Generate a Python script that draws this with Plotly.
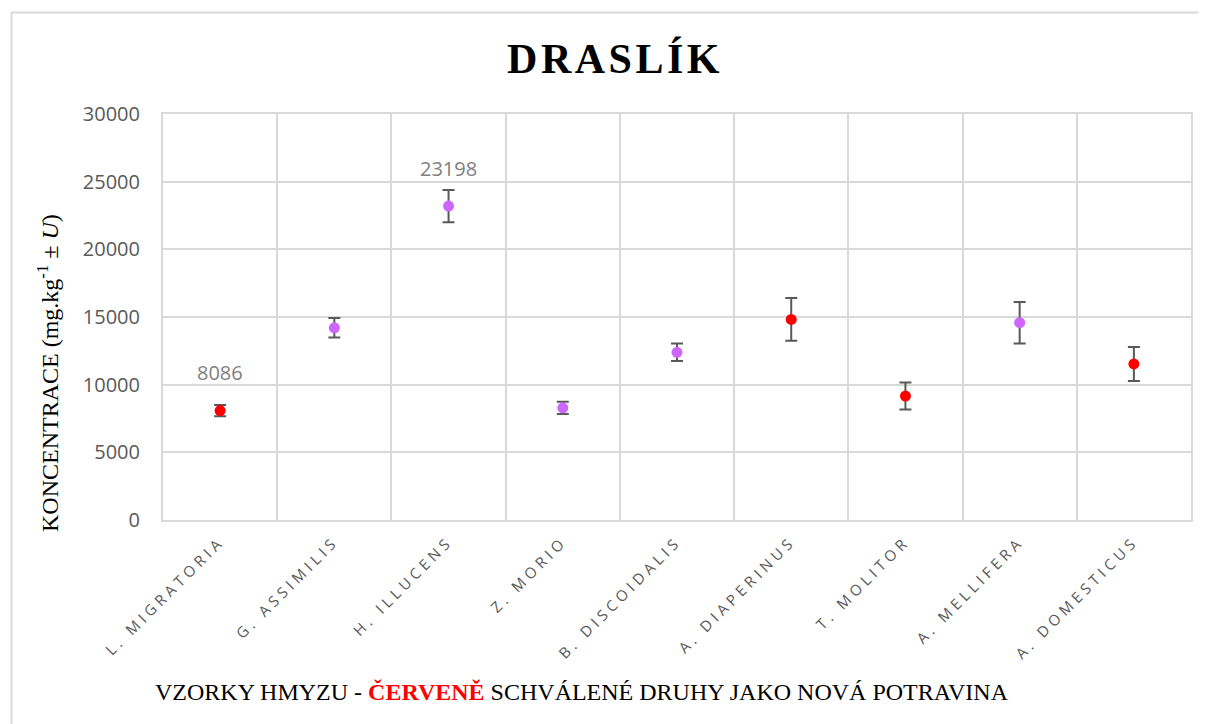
import plotly.graph_objects as go

categories = ["L. MIGRATORIA", "G. ASSIMILIS", "H. ILLUCENS", "Z. MORIO", "B. DISCOIDALIS",
              "A. DIAPERINUS", "T. MOLITOR", "A. MELLIFERA", "A. DOMESTICUS"]
values = [8086, 14200, 23198, 8290, 12390, 14820, 9160, 14580, 11530]
uncertainty = [420, 720, 1190, 450, 650, 1580, 1000, 1530, 1250]
approved = [True, False, False, False, False, True, True, False, True]
labelled = [True, False, True, False, False, False, False, False, False]

RED = "#FF0000"
PURPLE = "#CC66FF"
GRID = "#D9D9D9"
TICK = "#595959"

colors = [RED if a else PURPLE for a in approved]

W, H = 1198, 716  # page body adds an 8px offset
L, T, PW, PH = 155, 106, 1028, 406

fig = go.Figure()
fig.add_trace(go.Scatter(
    x=categories, y=values, mode="markers",
    marker=dict(color=colors, size=11, line=dict(width=0)),
    error_y=dict(type="data", array=uncertainty, visible=True,
                 color=TICK, thickness=2, width=6),
    showlegend=False, cliponaxis=False,
))

for c, v, lab in zip(categories, values, labelled):
    if lab:
        fig.add_annotation(x=c, y=v, text=str(v), showarrow=False, yshift=38,
                           font=dict(family="Open Sans", size=20, color="#7F7F7F"))

# y-axis title
fig.add_annotation(xref="paper", yref="paper", x=(48 - 163) / PW, y=(520 - 373) / PH,
                   xanchor="center", yanchor="middle", textangle=-90,
                   text="KONCENTRACE (mg.kg<sup>-1</sup> ± <i>U</i>)", showarrow=False,
                   font=dict(family="Liberation Serif", size=24, color="black"))

# bottom caption
fig.add_annotation(xref="paper", yref="paper", x=(582 - 163) / PW, y=(520 - 692) / PH,
                   xanchor="center", yanchor="middle", showarrow=False,
                   text="VZORKY HMYZU - <b><span style='color:#FF0000'>ČERVENĚ</span></b> SCHVÁLENÉ DRUHY JAKO NOVÁ POTRAVINA",
                   font=dict(family="Liberation Serif", size=24, color="black"))

# chart border
fig.add_shape(type="rect", xref="paper", yref="paper",
              x0=(11.5 - 163) / PW, x1=1.05, y0=-0.6, y1=(520 - 12.5) / PH,
              line=dict(color=GRID, width=2), fillcolor="rgba(0,0,0,0)", layer="below")

fig.update_layout(
    width=W, height=H,
    margin=dict(l=L, r=W - L - PW, t=T, b=H - T - PH),
    paper_bgcolor="white", plot_bgcolor="white",
    title=dict(text="<b>DRASLÍK</b>", xref="paper", x=(615 - 163) / PW, xanchor="center",
               yref="container", y=1 - (58 - 8) / H, yanchor="middle",
               font=dict(family="Liberation Serif", size=42, color="black")),
    xaxis=dict(tickson="boundaries", showgrid=True, gridcolor=GRID, gridwidth=2,
               showline=True, mirror=True, linecolor=GRID, linewidth=2,
               ticks="", tickangle=-45, ticklabelstandoff=5,
               tickfont=dict(family="Open Sans", size=15, color=TICK),
               range=[-0.5, 8.5]),
    yaxis=dict(range=[0, 30000], dtick=5000, tickformat="d", showgrid=True,
               gridcolor=GRID, gridwidth=2,
               showline=True, mirror=True, linecolor=GRID, linewidth=2, zeroline=False,
               ticks="", ticklabelstandoff=17,
               tickfont=dict(family="Open Sans", size=20, color=TICK)),
)

post = """
var gd = document.getElementById('{plot_id}');
gd.querySelectorAll('.gtitle').forEach(function(e){ e.style.letterSpacing = '3.5px'; });
gd.querySelectorAll('.xtick text').forEach(function(e){ e.style.letterSpacing = '4.2px'; });
"""

fig.write_html("out.html", post_script=post)
